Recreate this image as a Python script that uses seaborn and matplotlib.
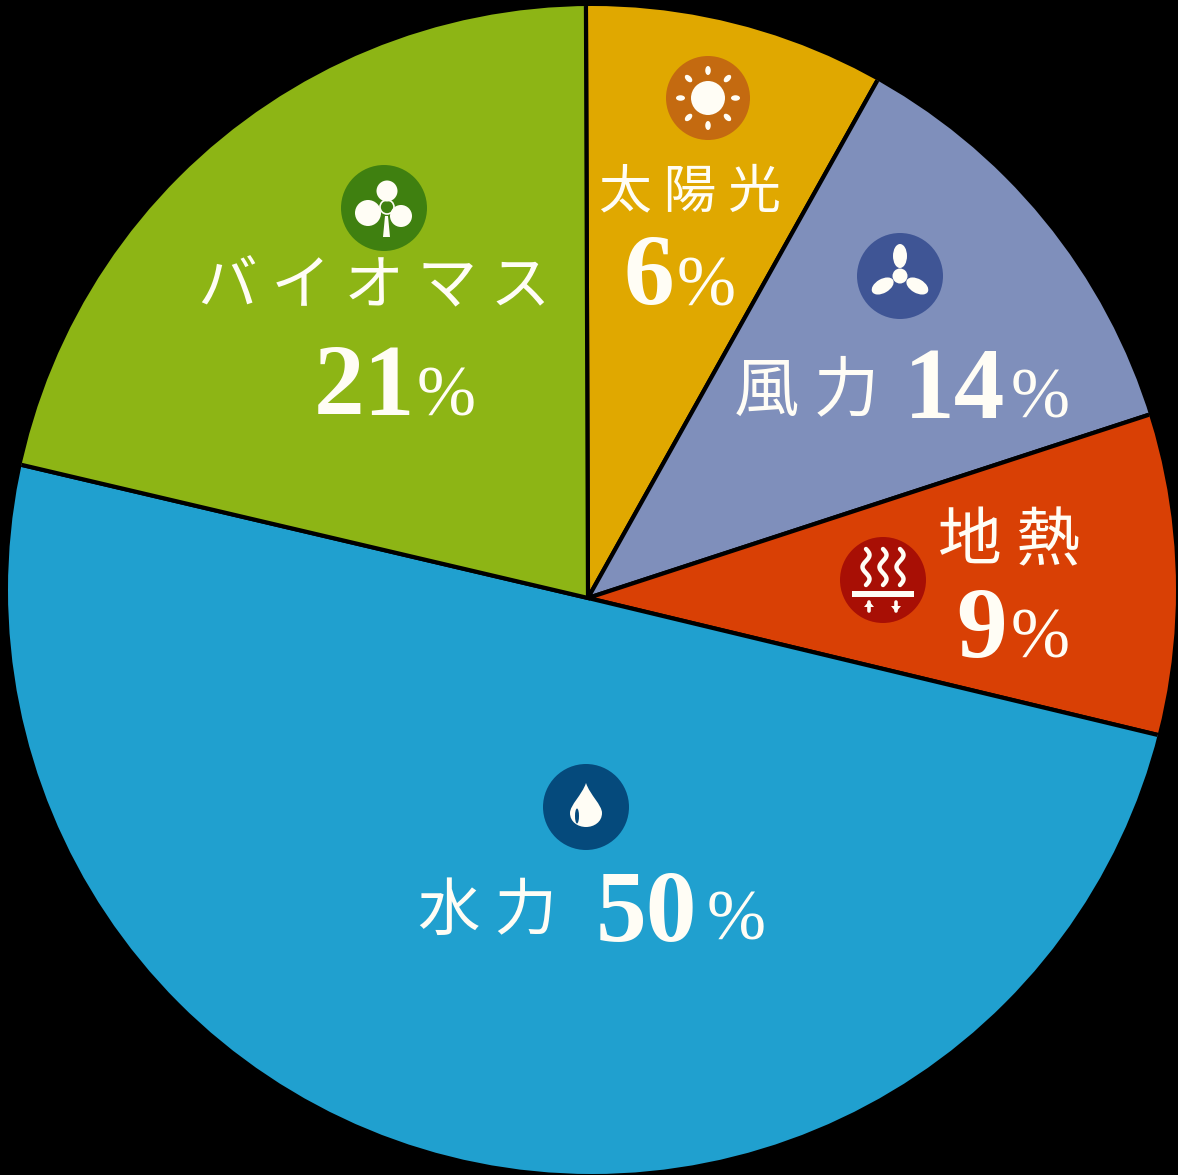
import numpy as np
import matplotlib
matplotlib.use("Agg")
import matplotlib.pyplot as plt
from matplotlib.patches import Circle, Ellipse, PathPatch, Polygon, Rectangle
from matplotlib.path import Path
import seaborn as sns

# Data
categories = ["太陽光", "風力", "地熱", "水力", "バイオマス"]
label_percent = [6, 14, 9, 50, 21]            # printed on the chart
wedge_shares = [8.17, 11.86, 8.78, 49.92, 21.27]  # as drawn in the picture
slice_colors = ["#E0A800", "#7F8FBB", "#D94005", "#20A0CF", "#8DB515"]

W, H = 1178, 1175
sns.set_theme(style="white")
plt.rcParams["font.family"] = ["Noto Sans CJK JP", "DejaVu Sans"]

fig = plt.figure(figsize=(W / 100, H / 100), dpi=100, facecolor="black")
ax = fig.add_axes([0, 0, 1, 1], facecolor="black")
wedges, _ = ax.pie(wedge_shares, colors=slice_colors, startangle=90.2, counterclock=False,
                   center=(588, H - 598), radius=640,
                   wedgeprops=dict(edgecolor="black", linewidth=3.0), frame=True)
ax.set_xlim(0, W)
ax.set_ylim(0, H)
ax.set_aspect("equal")
ax.axis("off")
outline = Circle((592, H - 590), 584, transform=ax.transData)
for w in wedges:
    w.set_clip_on(True)
    w.set_clip_path(outline)


def Y(py):
    return H - py


WHITE = "#FFFDF5"


def base(cx, cy, color, r=43):
    ax.add_patch(Circle((cx, Y(cy)), r, fc=color, ec="none", zorder=3))


def sun(cx, cy):
    base(cx, cy, "#C46A10", 42)
    ax.add_patch(Circle((cx, Y(cy)), 17, fc=WHITE, ec="none", zorder=4))
    for a in np.arange(0, 360, 45):
        x = cx + 27.5 * np.cos(np.radians(a))
        y = Y(cy) + 27.5 * np.sin(np.radians(a))
        ax.add_patch(Ellipse((x, y), 9, 5.5, angle=a, fc=WHITE, ec="none", zorder=4))


def fan(cx, cy):
    base(cx, cy, "#3F5595")
    ax.add_patch(Circle((cx, Y(cy)), 7.5, fc=WHITE, ec="none", zorder=4))
    for a in (90, 210, 330):
        x = cx + 20 * np.cos(np.radians(a))
        y = Y(cy) + 20 * np.sin(np.radians(a))
        ax.add_patch(Ellipse((x, y), 24, 14, angle=a, fc=WHITE, ec="none", zorder=4))


def heat(cx, cy):
    base(cx, cy, "#A80F05")
    t = np.linspace(0, 1, 80)
    for off in (-17, 0, 17):
        ax.plot(cx + off + 3.5 * np.sin(t * 2 * np.pi * 1.5),
                Y(cy - 31 + 36 * t),
                color=WHITE, lw=3.2, zorder=4, solid_capstyle="round")
    ax.add_patch(Rectangle((cx - 31, Y(cy + 17)), 62, 6, fc=WHITE, ec="none", zorder=4))
    for off, d in ((-14, 1), (13, -1)):
        ax.plot([off + cx, off + cx], [Y(cy + 22), Y(cy + 31)], color=WHITE, lw=2.6, zorder=4)
        tip = Y(cy + 21) if d > 0 else Y(cy + 32)
        ax.add_patch(Polygon([(cx + off - 5, tip - 6 * d), (cx + off + 5, tip - 6 * d), (cx + off, tip)],
                             fc=WHITE, ec="none", zorder=4))


def clover(cx, cy):
    base(cx, cy, "#3F8010")
    for dx, dy, r in ((3, -17, 10.5), (-16, 5, 13), (17, 8, 11)):
        ax.add_patch(Circle((cx + dx, Y(cy + dy)), r, fc=WHITE, ec="none", zorder=4))
    ax.add_patch(Polygon([(cx + 1, Y(cy + 8)), (cx + 4, Y(cy + 8)), (cx + 6, Y(cy + 29)), (cx - 1, Y(cy + 29))],
                         fc=WHITE, ec="none", zorder=4))
    ax.add_patch(Circle((cx + 3, Y(cy - 1)), 7, fc="#3F8010", ec=WHITE, lw=1.2, zorder=3.5))


def drop(cx, cy):
    base(cx, cy, "#054A7C")
    y0 = Y(cy)
    verts = [(cx, y0 + 24), (cx - 4, y0 + 12), (cx - 16, y0 + 2), (cx - 16, y0 - 6),
             (cx - 16, y0 - 15), (cx - 8, y0 - 20), (cx, y0 - 20),
             (cx + 8, y0 - 20), (cx + 16, y0 - 15), (cx + 16, y0 - 6),
             (cx + 16, y0 + 2), (cx + 4, y0 + 12), (cx, y0 + 24)]
    codes = [Path.MOVETO] + [Path.CURVE4] * 12
    ax.add_patch(PathPatch(Path(verts, codes), fc=WHITE, ec="none", zorder=4))
    ax.add_patch(Ellipse((cx - 9, y0 - 9), 4, 15, fc="#054A7C", ec="none", zorder=5))


sun(708, 98)
fan(900, 276)
heat(883, 580)
clover(384, 208)
drop(586, 807)

NUM_PT = 73
PCT_PT = 51


def jp(s, x, cy, pt):
    ax.text(x, Y(cy), s, color=WHITE, fontsize=pt, ha="center", va="center", zorder=6,
            family=["Noto Sans CJK JP", "DejaVu Sans"], fontweight="regular")


def num(v, xr, xl, base_y, pt=NUM_PT):
    ax.text(xr, Y(base_y), str(v), color=WHITE, fontsize=pt, ha="right", va="baseline",
            family="Liberation Serif", fontweight="bold", zorder=6)
    ax.text(xl, Y(base_y), "%", color=WHITE, fontsize=PCT_PT, ha="left", va="baseline",
            family="Liberation Serif", zorder=6)


sp = " "
jp(sp.join(categories[0]), 690, 192, 38)
num(label_percent[0], 674, 677, 305)
jp(sp.join(categories[1]), 807, 392, 47)
num(label_percent[1], 1005, 1011, 418)
jp(sp.join(categories[2]), 1009, 542, 46)
num(label_percent[2], 1007, 1011, 658)
jp(sp.join(categories[3]), 487, 912, 45)
num(label_percent[3], 697, 707, 940)
jp(sp.join(categories[4]), 374, 288, 43)
num(label_percent[4], 415, 417, 415)

fig.savefig("out.png", dpi=100, facecolor="black")
